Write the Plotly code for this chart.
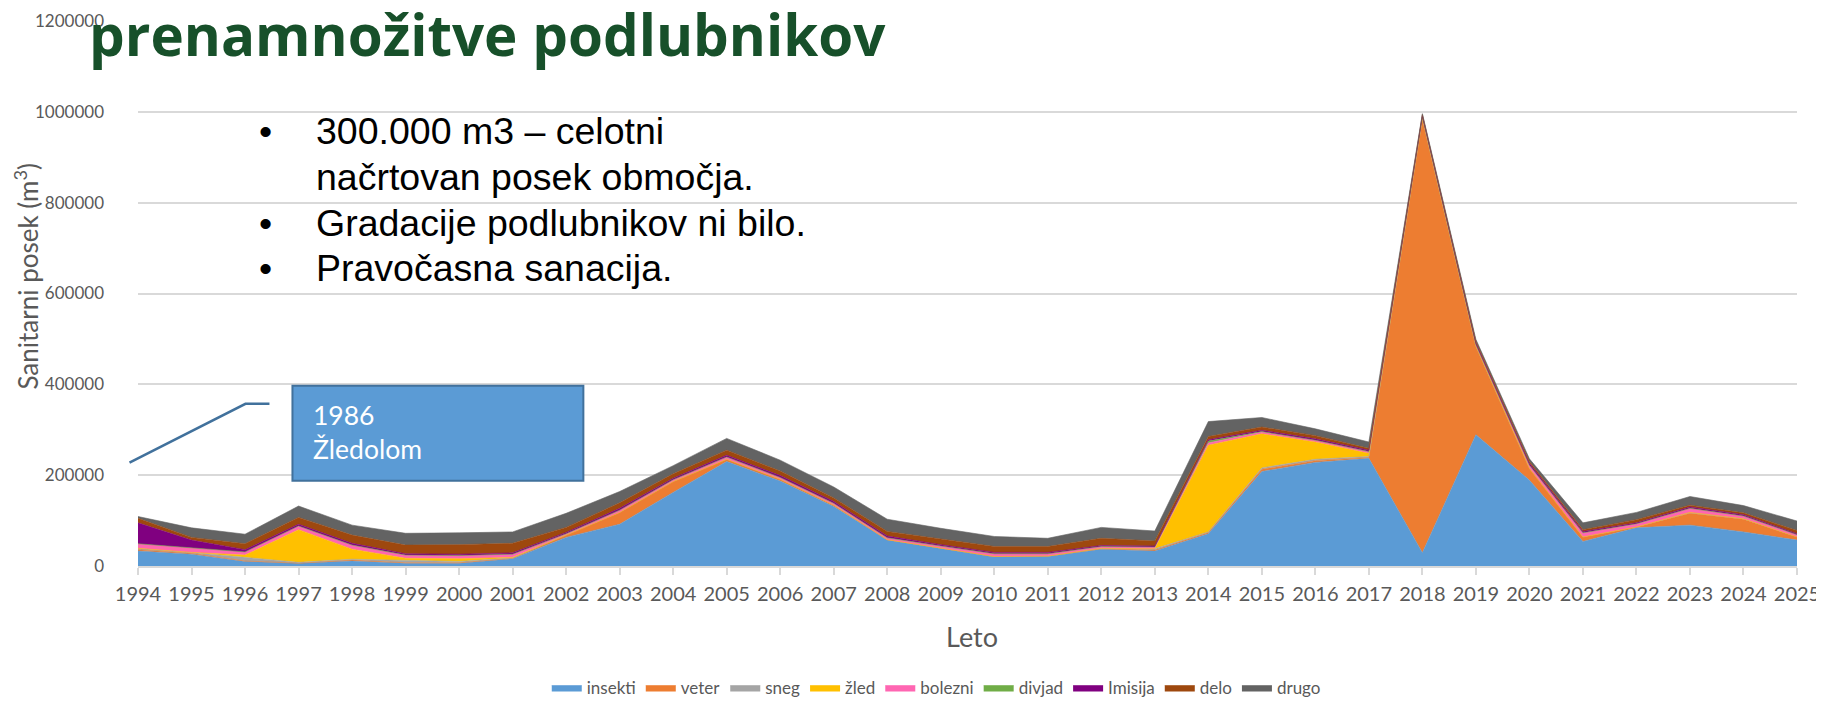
import plotly.graph_objects as go

# data (m3)
years = list(range(1994, 2026))

insekti = [33, 26, 10, 6, 11, 6, 6, 16, 63, 92, 162, 230, 187, 131, 57, 39,
           20, 21, 37, 33, 71, 208, 228, 237, 29, 289, 189, 54, 84, 90, 75, 57]
veter = [3, 2, 1, 0, 2, 1, 1, 1, 5, 26, 24, 5, 4, 3, 1, 1,
         1, 1, 1, 2, 3, 5, 4, 2, 955, 195, 26, 10, 2, 26, 28, 7]
sneg = [3, 2, 8, 2, 2, 5, 3, 1, 0, 0, 0, 0, 0, 0, 0, 0,
        0, 0, 1, 3, 1, 3, 3, 2, 1, 0, 0, 0, 0, 2, 1, 0]
zled = [0, 0, 5, 72, 22, 5, 6, 1, 0, 0, 0, 0, 0, 0, 0, 0,
        0, 0, 0, 0, 191, 75, 38, 7, 0, 0, 0, 0, 0, 0, 0, 0]
bolezni = [10, 10, 7, 8, 9, 7, 7, 7, 3, 5, 4, 5, 4, 4, 4, 4,
           6, 5, 4, 4, 5, 4, 4, 4, 3, 3, 7, 9, 7, 9, 6, 5]
divjad = [0, 0, 0, 0, 0, 0, 0, 0, 0, 0, 0, 0, 0, 0, 0, 0,
          0, 0, 0, 0, 4, 1, 0, 0, 0, 0, 0, 0, 0, 0, 0, 0]
imisija = [46, 17, 5, 4, 4, 3, 3, 3, 3, 4, 3, 4, 4, 4, 4, 3,
           3, 3, 2, 2, 3, 3, 3, 3, 4, 4, 4, 3, 2, 3, 3, 2]
delo = [10, 6, 13, 15, 18, 19, 21, 21, 11, 12, 10, 11, 10, 8, 10, 12,
        13, 13, 16, 11, 7, 7, 7, 4, 2, 3, 4, 4, 7, 4, 4, 7]
drugo = [4, 21, 21, 25, 22, 26, 26, 25, 31, 25, 18, 26, 24, 24, 27, 24,
         22, 18, 24, 22, 33, 21, 15, 14, 2, 5, 6, 15, 16, 19, 16, 21]

series_names = ["insekti", "veter", "sneg", "žled", "bolezni", "divjad", "Imisija", "delo", "drugo"]
series_values = [insekti, veter, sneg, zled, bolezni, divjad, imisija, delo, drugo]
colors = ["#5B9BD5", "#ED7D31", "#A5A5A5", "#FFC000", "#FF66B2",
          "#70AD47", "#800080", "#9E480E", "#636363"]

y_ticks = [0, 200000, 400000, 600000, 800000, 1000000, 1200000]

bullets = ["300.000 m3 – celotni", "načrtovan posek območja.",
           "Gradacije podlubnikov ni bilo.", "Pravočasna sanacija."]

# the html body has an 8px margin, so page pixel = figure pixel + 8
OFF = 8
W, H = 1824 - OFF, 706 - OFF
# plot area in page pixels
L, R, T, B = 137.5, 1797, 20.5, 566.5
def px(x):
    return (x - L) / (R - L)
def py(y):
    return (B - y) / (B - T)

fig = go.Figure()
for name, vals, col in zip(series_names, series_values, colors):
    fig.add_trace(go.Scatter(
        x=years,
        y=[v * 1000 for v in vals],
        name=name,
        stackgroup="one",
        mode="lines",
        line=dict(width=0.6, color=col),
        fillcolor=col,
    ))

grey = "#595959"
fig.update_layout(
    width=W, height=H,
    margin=dict(l=L - OFF, r=W - (R - OFF), t=T - OFF, b=H - (B - OFF), autoexpand=False),
    plot_bgcolor="white", paper_bgcolor="white",
    font=dict(family="Lato", size=18, color=grey),
    showlegend=True,
    legend=dict(orientation="h", x=px(936), xanchor="center",
                yref="container", y=0, yanchor="bottom",
                font=dict(size=17, color=grey), itemwidth=30, traceorder="normal"),
)
fig.update_xaxes(
    range=[1994, 2025], tickvals=years, ticktext=[str(y) for y in years],
    showgrid=False, showline=True, linecolor="#D9D9D9", linewidth=1.5,
    ticks="outside", ticklen=7, tickcolor="#D9D9D9", tickwidth=1.5,
    tickfont=dict(size=20, color=grey), zeroline=False, automargin=False,
    ticklabelstandoff=2, ticklabeloverflow="allow",
)
fig.update_yaxes(
    range=[0, 1200000], tickvals=y_ticks, ticktext=[str(v) for v in y_ticks],
    showgrid=True, gridcolor="#D9D9D9", gridwidth=1.5, zeroline=False,
    tickfont=dict(size=17, color=grey), ticks="", ticklabelstandoff=33,
    automargin=False, ticklabeloverflow="allow",
)

ann = []
# axis titles
ann.append(dict(text="Sanitarni posek (m<sup>3</sup>)", x=px(26), y=py(276), xref="paper", yref="paper",
                xanchor="center", yanchor="middle",
                showarrow=False, textangle=-90, font=dict(size=26, color=grey)))
ann.append(dict(text="Leto", x=px(972), y=py(637), xref="paper", yref="paper",
                xanchor="center", yanchor="middle",
                showarrow=False, font=dict(size=27, color=grey)))
# big slide heading
ann.append(dict(text="prenamnožitve podlubnikov", x=px(86), y=py(34), xref="paper", yref="paper",
                xanchor="left", yanchor="middle", showarrow=False,
                font=dict(family="Open Sans", size=56.5, color="#17502A", weight=700)))
# bullet text
line_y = [131, 177, 223, 268]
for i, (txt, yy) in enumerate(zip(bullets, line_y)):
    if i != 1:
        ann.append(dict(text="•", x=px(257), y=py(yy), xref="paper", yref="paper",
                        xanchor="left", yanchor="middle", showarrow=False,
                        font=dict(family="Liberation Sans", size=37.5, color="black")))
    ann.append(dict(text=txt, x=px(314), y=py(yy), xref="paper", yref="paper",
                    xanchor="left", yanchor="middle", showarrow=False,
                    font=dict(family="Liberation Sans", size=37.5, color="black")))
# callout text
ann.append(dict(text="1986<br>Žledolom", x=px(311), y=py(432), xref="paper", yref="paper",
                xanchor="left", yanchor="middle", align="left", showarrow=False,
                font=dict(family="Lato", size=26.5, color="white")))
fig.update_layout(annotations=ann)

fig.add_shape(type="rect", xref="paper", yref="paper",
              x0=px(292), x1=px(583), y0=py(481), y1=py(386),
              fillcolor="#5B9BD5", line=dict(color="#41719C", width=2))
fig.add_shape(type="path", xref="paper", yref="paper",
              path=f"M {px(129)} {py(463)} L {px(245)} {py(404)} L {px(269)} {py(404)}",
              line=dict(color="#41719C", width=2.5))

fig.write_html("out.html")
